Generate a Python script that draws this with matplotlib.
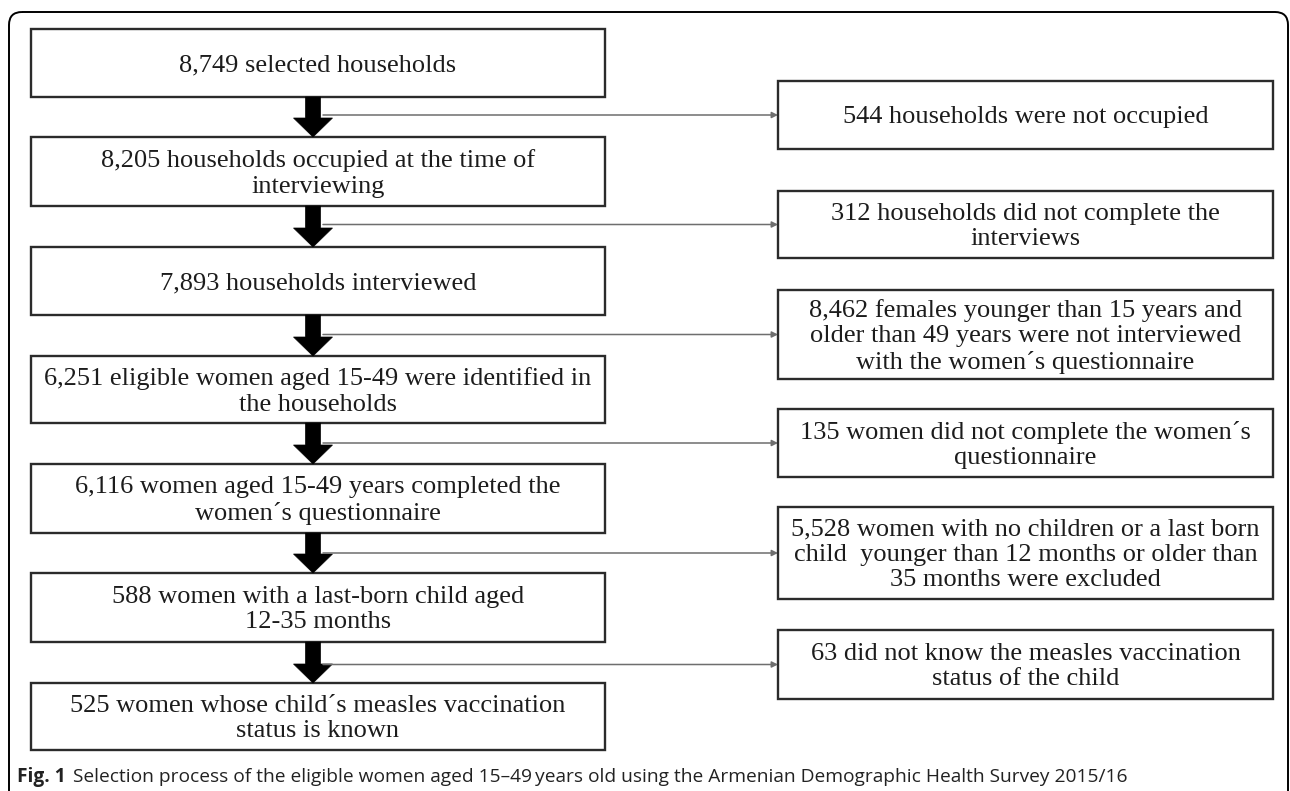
import matplotlib
matplotlib.use("Agg")
from matplotlib import pyplot as plt
from matplotlib.patches import Rectangle, FancyBboxPatch, Polygon

# flowchart text, top to bottom
left_labels = [
    "8,749 selected households",
    "8,205 households occupied at the time of\ninterviewing",
    "7,893 households interviewed",
    "6,251 eligible women aged 15-49 were identified in\nthe households",
    "6,116 women aged 15-49 years completed the\nwomen\u00b4s questionnaire",
    "588 women with a last-born child aged\n12-35 months",
    "525 women whose child\u00b4s measles vaccination\nstatus is known",
]
right_labels = [
    "544 households were not occupied",
    "312 households did not complete the\ninterviews",
    "8,462 females younger than 15 years and\nolder than 49 years were not interviewed\nwith the women\u00b4s questionnaire",
    "135 women did not complete the women\u00b4s\nquestionnaire",
    "5,528 women with no children or a last born\nchild  younger than 12 months or older than\n35 months were excluded",
    "63 did not know the measles vaccination\nstatus of the child",
]
caption_bold = "Fig. 1"
caption_text = ("Selection process of the eligible women aged 15\u201349\u2009years old "
                "using the Armenian Demographic Health Survey 2015/16")

# layout (pixels, y downward)
left_x0, left_x1 = 31, 605
left_y = [(29, 97), (137, 206), (247, 315), (356, 423), (464, 533), (573, 642), (683, 750)]
right_x0, right_x1 = 778, 1273
right_y = [(81, 149), (191, 258), (290, 379), (409, 477), (507, 599), (630, 699)]
arrow_x = 313

serif = "Liberation Serif"
fs = 19

fig = plt.figure(figsize=(12.9, 7.91), dpi=100)
ax = fig.add_axes([0, 0, 1, 1])
ax.set_xlim(0, 1290)
ax.set_ylim(791, 0)
ax.axis("off")

# outer frame
frame = FancyBboxPatch((9, 12), 1279, 820, boxstyle="round,pad=0,rounding_size=13",
                       fill=False, ec="black", lw=1.4)
ax.add_patch(frame)


def box(x0, x1, y0, y1, lab):
    ax.add_patch(Rectangle((x0, y0), x1 - x0, y1 - y0,
                           fill=False, ec="#2b2b2b", lw=1.7))
    ax.text((x0 + x1) / 2, (y0 + y1) / 2 + 2, lab, ha="center", va="center",
            family=serif, fontsize=fs, color="#1c1c1c", linespacing=1.2)


for lab, (y0, y1) in zip(left_labels, left_y):
    box(left_x0, left_x1, y0, y1, lab)

for lab, (y0, y1) in zip(right_labels, right_y):
    box(right_x0, right_x1, y0, y1, lab)

# thick down arrows between left boxes
shaft, head_w, head_l = 15, 39, 19
for i in range(len(left_y) - 1):
    top = left_y[i][1]
    bot = left_y[i + 1][0]
    pts = [(arrow_x - shaft / 2, top), (arrow_x + shaft / 2, top),
           (arrow_x + shaft / 2, bot - head_l), (arrow_x + head_w / 2, bot - head_l),
           (arrow_x, bot), (arrow_x - head_w / 2, bot - head_l),
           (arrow_x - shaft / 2, bot - head_l)]
    ax.add_patch(Polygon(pts, closed=True, fc="black", ec="black", lw=0.5))

# thin arrows to the exclusion boxes
for (y0, y1) in right_y:
    yc = (y0 + y1) / 2
    ax.annotate("", xy=(right_x0, yc), xytext=(arrow_x + 10, yc),
                arrowprops=dict(arrowstyle="-|>", color="#6e6e6e", lw=1.1,
                                mutation_scale=9, shrinkA=0, shrinkB=0))

t1 = ax.text(17, 777, caption_bold, ha="left", va="center", family="Open Sans",
             fontweight="bold", fontsize=13.8, color="#222222")
ax.annotate(caption_text, xy=(1, 0.5), xycoords=t1, xytext=(5, 0),
            textcoords="offset points", ha="left", va="center", family="Open Sans",
            fontsize=13.8, color="#222222")

fig.savefig("out.png", dpi=100)
